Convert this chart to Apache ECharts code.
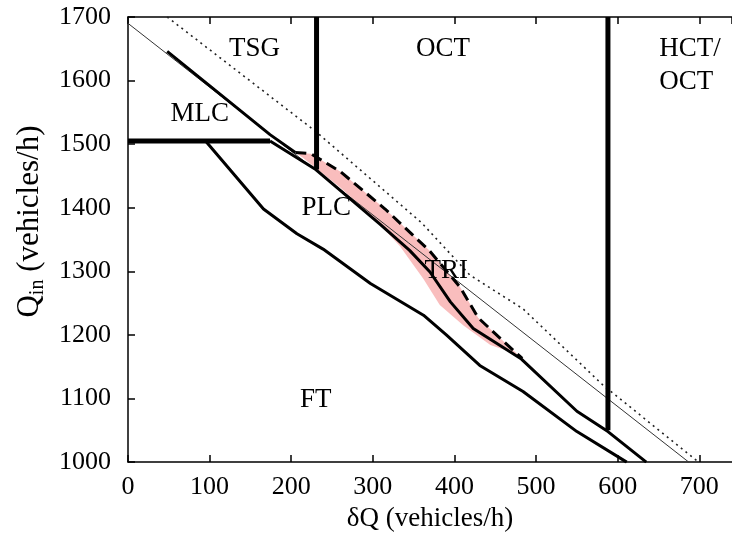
<!DOCTYPE html>
<html><head><meta charset="utf-8">
<script src="https://cdn.jsdelivr.net/npm/echarts@6/dist/echarts.min.js"></script>
<style>html,body{margin:0;padding:0;background:#fff}#c{width:732px;height:537px}</style>
</head><body><div id="c"></div>
<script>
// ---- data ----
const xTickValues = [0, 100, 200, 300, 400, 500, 600, 700];
const yTickValues = [1000, 1100, 1200, 1300, 1400, 1500, 1600, 1700];

const thinX = [0, 687];
const thinY = [1690, 1000];

const dotX = [48, 230, 360, 419, 484, 582, 699];
const dotY = [1700, 1520, 1376, 1294, 1241, 1121, 1000];

const upperSolidX = [48, 174, 205];
const upperSolidY = [1646, 1515, 1487];

const dashX = [205, 224, 260, 315, 349, 369, 407, 429, 460, 483];
const dashY = [1487, 1485, 1457, 1398, 1357, 1333, 1275, 1227, 1190, 1163];

const mlcX = [0, 174];
const mlcY = [1505, 1505];

const curveAX = [174, 229, 309, 345, 370, 395, 423, 482, 550, 588, 635];
const curveAY = [1505, 1461, 1374, 1333, 1299, 1252, 1210, 1162, 1080, 1048, 1000];

const curveCX = [95, 166, 207, 239, 297, 362, 390, 431, 484, 550, 611];
const curveCY = [1505, 1398, 1359, 1335, 1281, 1231, 1200, 1152, 1111, 1048, 1000];

const vline1X = [231, 231];
const vline1Y = [1700, 1460];
const vline2X = [588, 588];
const vline2Y = [1700, 1050];

const pinkX = [205, 224, 260, 315, 349, 369, 407, 429, 460, 483, 476, 444, 411, 382, 362, 333, 300, 260, 215];
const pinkY = [1487, 1485, 1457, 1398, 1357, 1333, 1275, 1227, 1190, 1163, 1170, 1184, 1215, 1247, 1288, 1340, 1385, 1432, 1478];

const regionNames = ['TSG', 'OCT', 'HCT/\nOCT', 'MLC', 'PLC', 'TRI', 'FT'];
const regionX = [155, 386, 651, 88, 243, 390, 230];
const regionY = [1650, 1650, 1624, 1548, 1400, 1300, 1098];

// ---- chart ----
const FONT = 'Liberation Serif, Times New Roman, serif';
const zip = (xs, ys) => xs.map((x, i) => [x, ys[i]]);
const lineSeries = (xs, ys, style, z) => ({
  type: 'line', data: zip(xs, ys), showSymbol: false, symbol: 'none',
  lineStyle: Object.assign({ color: '#000', cap: 'butt', join: 'round' }, style),
  silent: true, z: z || 3, animation: false
});

const chart = echarts.init(document.getElementById('c'), null, { renderer: 'canvas' });
const axisCommon = {
  axisLine: { lineStyle: { color: '#000', width: 1.5 } },
  axisTick: { inside: true, length: 7, lineStyle: { color: '#000', width: 1.5 } },
  splitLine: { show: false }
};
chart.setOption({
  animation: false,
  backgroundColor: '#fff',
  grid: { left: 128, right: 0, top: 17, bottom: 73 },
  xAxis: [
    Object.assign({
      type: 'value', min: 0, max: 740, interval: 100, position: 'bottom',
      name: 'δQ (vehicles/h)', nameLocation: 'middle', nameGap: 42,
      nameTextStyle: { fontFamily: FONT, fontSize: 27, color: '#000' },
      axisLabel: {
        fontFamily: FONT, fontSize: 26, color: '#000', margin: 12, showMaxLabel: false,
        formatter: v => (xTickValues.indexOf(v) >= 0 ? String(v) : '')
      }
    }, axisCommon),
    Object.assign({
      type: 'value', min: 0, max: 740, interval: 100, position: 'top',
      axisLabel: { show: false }
    }, axisCommon)
  ],
  yAxis: [
    Object.assign({
      type: 'value', min: 1000, max: 1700, interval: 100, position: 'left',
      name: '{q|Q}{s|in}{q| (vehicles/h)}', nameLocation: 'middle', nameGap: 80,
      nameTextStyle: {
        color: '#000', padding: [0, 0, 0, 36],
        rich: {
          q: { fontFamily: FONT, fontSize: 31, color: '#000', lineHeight: 36, verticalAlign: 'middle' },
          s: { fontFamily: FONT, fontSize: 20, color: '#000', lineHeight: 23, verticalAlign: 'bottom' }
        }
      },
      axisLabel: {
        fontFamily: FONT, fontSize: 26, color: '#000', margin: 17,
        formatter: v => (yTickValues.indexOf(v) >= 0 ? String(v) : '')
      }
    }, axisCommon)
  ],
  series: [
    {
      type: 'custom', data: [[0, 1000]], silent: true, z: 1, animation: false,
      renderItem: (params, api) => {
        const pts = pinkX.map((x, i) => api.coord([x, pinkY[i]]));
        return { type: 'polygon', shape: { points: pts }, style: { fill: '#f9bdbd' } };
      }
    },
    lineSeries(thinX, thinY, { width: 1, color: '#333' }, 2),
    lineSeries(dotX, dotY, { width: 1.6, color: '#222', type: [2, 4] }, 2),
    lineSeries(upperSolidX, upperSolidY, { width: 3 }, 3),
    lineSeries(dashX, dashY, { width: 3, type: [11, 6] }, 3),
    lineSeries(mlcX, mlcY, { width: 5 }, 3),
    lineSeries(curveAX, curveAY, { width: 3 }, 3),
    lineSeries(curveCX, curveCY, { width: 3 }, 3),
    lineSeries(vline1X, vline1Y, { width: 5 }, 4),
    lineSeries(vline2X, vline2Y, { width: 5 }, 4),
    {
      type: 'scatter', symbolSize: 0, silent: true, z: 5, animation: false,
      itemStyle: { color: '#000', opacity: 1 },
      data: regionNames.map((n, i) => {
        const d = { name: n, value: [regionX[i], regionY[i]] };
        if (n.indexOf('\n') >= 0) d.label = { position: 'right', distance: 0, align: 'left' };
        return d;
      }),
      label: {
        show: true, position: 'inside', formatter: p => p.name,
        fontFamily: FONT, fontSize: 27, color: '#000', lineHeight: 33,
        textBorderWidth: 0, textBorderColor: 'transparent', opacity: 1
      }
    }
  ]
});
</script>
</body></html>
